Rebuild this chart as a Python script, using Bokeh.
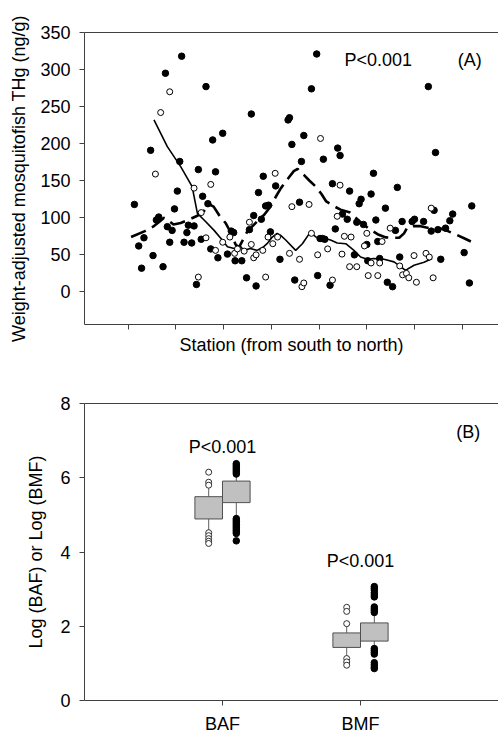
from bokeh.plotting import figure
from bokeh.layouts import column
from bokeh.models import LinearAxis, FixedTicker, Label, Range1d
from bokeh.embed import file_html
from bokeh.resources import INLINE

FONT = "Liberation Sans"
AX = "#404040"

# ---------------- Panel A data ----------------
filled_x = [11.3, 12.2, 12.8, 13.3, 14.7, 15.2, 15.9, 16.4, 17.3, 17.8, 18.2, 18.7, 19.2, 19.7,
            20.3, 20.8, 21.2, 21.7, 22.3, 22.6, 23.3, 23.8, 24.3, 24.7, 25.3, 25.6, 26.3, 26.7,
            27.3, 27.7, 28.3, 28.8, 29.8, 30.8, 31.6, 32.1, 32.4, 33.8, 34.8, 35.4, 35.8, 36.3,
            36.8, 37.3, 37.9, 38.3, 38.8, 39.4, 39.8, 40.9, 41.8, 43.5, 43.8, 44.3, 44.9, 45.9,
            46.3, 46.8, 48.4, 49.5, 49.7, 50.2, 50.7, 51.2, 50.9, 52.3, 52.8, 53.4, 53.9, 54.4,
            54.9, 55.9, 56.4, 57.4, 57.9, 58.4, 58.8, 59.3, 60.0, 60.2, 60.9, 61.4, 61.9, 62.3,
            62.7, 63.9, 64.3, 65.4, 66.0, 66.4, 66.9, 67.4, 69.5, 70.0, 71.9, 72.9, 73.5, 74.1,
            74.4, 74.9, 75.5, 76.5, 77.4, 78.0, 80.4, 81.5, 82.0]
filled_y = [118, 62, 32, 73, 191, 49, 97, 101, 34, 295, 88, 67, 83, 112,
            136, 176, 318, 67, 80, 90, 66, 89, 10, 165, 71, 129, 277, 119,
            58, 205, 162, 46, 214, 51, 82, 80, 42, 42, 19, 84, 240, 103,
            8, 134, 98, 156, 116, 117, 81, 143, 44, 232, 235, 199, 16, 121,
            176, 211, 274, 321, 22, 72, 72, 71, 179, 9, 146, 85, 194, 184,
            105, 98, 136, 50, 94, 119, 125, 91, 64, 42, 132, 160, 97, 68,
            45, 113, 13, 7, 83, 141, 47, 95, 95, 98, 95, 277, 82, 110,
            188, 84, 44, 86, 96, 105, 53, 12, 116]

open_x = [15.7, 16.8, 18.7, 23.8, 24.7, 25.3, 26.3, 27.3, 28.3, 29.8, 31.3, 32.3, 32.9, 34.3,
          35.4, 35.8, 36.3, 36.8, 38.2, 38.8, 39.3, 40.3, 40.8, 41.3, 43.8, 44.3, 45.9, 46.4,
          46.8, 47.9, 48.4, 49.7, 50.3, 51.8, 52.8, 53.8, 54.4, 54.8, 55.3, 56.7, 56.4, 57.9,
          59.5, 60.0, 60.3, 62.3, 60.9, 62.7, 63.2, 64.9, 66.9, 67.5, 68.3, 68.8, 70.4, 69.9,
          72.4, 73.1, 73.5, 73.9]
open_y = [159, 242, 270, 140, 20, 107, 73, 145, 56, 67, 74, 52, 58, 55,
          94, 64, 46, 50, 56, 20, 74, 65, 160, 74, 52, 115, 44, 7,
          12, 118, 79, 50, 207, 58, 16, 102, 144, 51, 75, 74, 34, 34,
          62, 79, 22, 22, 39, 39, 68, 86, 35, 23, 25, 19, 13, 49,
          52, 47, 113, 19]

# smoothed trend of the open-circle series (solid)
trend_open_x = [15.4, 18.2, 21.0, 23.4, 24.5, 25.9, 28.0, 29.7, 30.8, 32.2, 33.6, 34.2, 35.6,
                37.0, 38.4, 39.1, 40.2, 41.2, 41.9, 43.0, 45.1, 46.5, 48.2, 49.3, 50.7, 52.4,
                53.8, 55.6, 57.3, 58.7, 60.1, 61.5, 63.6, 65.7, 67.1, 68.1, 69.9, 72.0, 73.7]
trend_open_y = [232, 196, 169, 142, 106, 97, 83, 70, 61, 58.5, 61, 56, 58.5,
                56, 61, 65, 74, 79, 76.5, 70, 56, 65, 81, 74, 73, 70,
                66, 65, 56, 47, 44, 45, 44, 40.5, 34, 29, 36, 40, 45]

# smoothed trend of the filled-circle series (dashed)
trend_filled_x = [10.6, 13.5, 15.2, 16.6, 17.5, 18.5, 19.5, 21.0, 22.5, 24.6, 26.0, 27.0, 27.9,
                  29.0, 30.4, 31.5, 32.5, 33.2, 34.2, 35.0, 37.0, 38.5, 39.8, 40.9, 42.0, 43.5,
                  44.7, 45.5, 46.0, 46.8, 48.0, 49.3, 50.5, 51.5, 53.0, 54.5, 56.5, 58.7, 60.5,
                  62.5, 64.0, 66.8, 67.8, 68.5, 70.0, 71.3, 73.0, 75.5, 77.0, 78.8, 80.5, 81.8]
trend_filled_y = [74, 82, 88, 95, 100, 96, 91, 93, 97, 103, 110, 118, 115,
                  104, 93, 80, 64, 60, 72, 82, 95, 104, 115, 128, 140, 153,
                  163, 166, 162, 158, 150, 142, 132, 122, 116, 111, 107, 94, 85,
                  77, 73.5, 73, 79, 87, 89, 88.7, 86, 85.5, 82, 77, 72, 68]

a_yticks = [0, 50, 100, 150, 200, 250, 300, 350]
a_xticks = [10, 20, 30, 40, 50, 60, 70, 80]

# ---------------- Panel B data ----------------
group_labels = {1: "BAF", 2: "BMF"}
box_x = [0.9, 1.1, 1.9, 2.1]
box_q1 = [4.89, 5.33, 1.43, 1.60]
box_med = [5.20, 5.66, 1.69, 1.82]
box_q3 = [5.49, 5.91, 1.82, 2.09]
box_lo = [4.54, 4.93, 1.08, 1.34]
box_hi = [5.75, 6.06, 2.04, 2.31]

baf_open_out = [6.15, 5.88, 5.80, 4.52, 4.44, 4.36, 4.29, 4.23]
baf_filled_out = [6.38, 6.34, 6.30, 6.26, 6.22, 6.18, 6.14, 6.10, 4.90, 4.86, 4.82, 4.78,
                  4.74, 4.70, 4.66, 4.62, 4.58, 4.54, 4.50, 4.30]
bmf_open_out = [2.51, 2.40, 2.07, 1.13, 1.04, 0.95]
bmf_filled_out = [3.07, 3.02, 2.97, 2.90, 2.84, 2.79, 2.52, 2.47, 2.42, 2.37, 1.40, 1.35,
                  1.30, 1.25, 1.02, 0.96, 0.90, 0.86]
b_yticks = [0, 2, 4, 6, 8]

BOX_W = 0.2
CAP_W = 0.12


def style_axes(p):
    for ax in p.axis:
        ax.axis_line_color = AX
        ax.axis_line_width = 1
        ax.major_tick_line_color = AX
        ax.major_tick_out = 5
        ax.major_tick_in = 0
        ax.minor_tick_line_color = None
        ax.major_label_text_font = FONT
        ax.major_label_text_font_size = "18px"
        ax.major_label_text_color = "black"
        ax.axis_label_text_font = FONT
        ax.axis_label_text_font_size = "18px"
        ax.axis_label_text_font_style = "normal"
        ax.axis_label_text_color = "black"
    p.grid.visible = False
    p.outline_line_color = None


def top_line(p):
    ax = LinearAxis(ticker=FixedTicker(ticks=[]), axis_line_color=AX,
                    major_tick_line_color=None, minor_tick_line_color=None)
    p.add_layout(ax, "above")


# ---------------- Panel A ----------------
pa = figure(width=498, height=365, output_backend="svg", toolbar_location=None,
            x_range=Range1d(0.84, 87.6), y_range=Range1d(-44, 350),
            min_border_left=84, min_border_right=0, min_border_top=32, min_border_bottom=41)
pa.background_fill_color = "white"
style_axes(pa)
# unlabelled station ticks: drawn as minor ticks so no tick texts exist
pa.xaxis.ticker = FixedTicker(ticks=[], minor_ticks=a_xticks)
pa.xaxis.minor_tick_line_color = AX
pa.xaxis.minor_tick_out = 5
pa.xaxis.minor_tick_in = 0
pa.xaxis.major_label_standoff = 0
pa.xaxis.axis_label = "Station (from south to north)"
pa.xaxis.axis_label_standoff = 5
pa.yaxis.ticker = FixedTicker(ticks=a_yticks)
pa.yaxis.major_label_standoff = 9
pa.yaxis.axis_label = "Weight-adjusted mosquitofish THg (ng/g)"
pa.yaxis.axis_label_standoff = 8
top_line(pa)

pa.line(trend_filled_x, trend_filled_y, line_color="black", line_width=2.6, line_dash="16 7")
pa.line(trend_open_x, trend_open_y, line_color="black", line_width=1.6)
pa.scatter(filled_x, filled_y, size=6.5, fill_color="black", line_color="black")
pa.scatter(open_x, open_y, size=6, fill_color="white", line_color="black", line_width=1)

pa.add_layout(Label(x=62.4, y=312.7, text="P<0.001", text_font=FONT, text_font_size="18px",
                    text_align="center", text_baseline="middle", text_color="black"))
pa.add_layout(Label(x=81.6, y=312.7, text="(A)", text_font=FONT, text_font_size="18px",
                    text_align="center", text_baseline="middle", text_color="black"))

# ---------------- Panel B ----------------
pb = figure(width=498, height=371, output_backend="svg", toolbar_location=None,
            x_range=Range1d(0, 3), y_range=Range1d(0, 8),
            min_border_left=71, min_border_right=0, min_border_top=38, min_border_bottom=34)
pb.background_fill_color = "white"
style_axes(pb)
pb.xaxis.ticker = FixedTicker(ticks=list(group_labels.keys()))
pb.xaxis.major_label_overrides = group_labels
pb.xaxis.major_label_standoff = 8
pb.yaxis.ticker = FixedTicker(ticks=b_yticks)
pb.yaxis.major_label_standoff = 9
pb.yaxis.axis_label = "Log (BAF) or Log (BMF)"
pb.yaxis.axis_label_standoff = 11
top_line(pb)

WH = "#606060"
pb.segment(x0=box_x, y0=box_q3, x1=box_x, y1=box_hi, line_color=WH, line_width=1)
pb.segment(x0=box_x, y0=box_q1, x1=box_x, y1=box_lo, line_color=WH, line_width=1)
pb.rect(x=box_x, y=box_hi, width=CAP_W, height=0, line_color=WH, line_width=1)
pb.rect(x=box_x, y=box_lo, width=CAP_W, height=0, line_color=WH, line_width=1)
pb.vbar(x=box_x, bottom=box_q1, top=box_q3, width=BOX_W, fill_color="#c0c0c0",
        line_color="#505050", line_width=1)
pb.rect(x=box_x, y=box_med, width=BOX_W, height=0, line_color="#505050", line_width=1)

pb.scatter([box_x[0]] * len(baf_open_out), baf_open_out, size=6, fill_color="white",
           line_color="#303030", line_width=1)
pb.scatter([box_x[1]] * len(baf_filled_out), baf_filled_out, size=6.5, fill_color="black",
           line_color="black")
pb.scatter([box_x[2]] * len(bmf_open_out), bmf_open_out, size=6, fill_color="white",
           line_color="#303030", line_width=1)
pb.scatter([box_x[3]] * len(bmf_filled_out), bmf_filled_out, size=6.5, fill_color="black",
           line_color="black")

pb.add_layout(Label(x=1.0, y=6.82, text="P<0.001", text_font=FONT, text_font_size="18px",
                    text_align="center", text_baseline="middle", text_color="black"))
pb.add_layout(Label(x=2.0, y=3.75, text="P<0.001", text_font=FONT, text_font_size="18px",
                    text_align="center", text_baseline="middle", text_color="black"))
pb.add_layout(Label(x=2.78, y=7.24, text="(B)", text_font=FONT, text_font_size="18px",
                    text_align="center", text_baseline="middle", text_color="black"))

layout = column(pa, pb, spacing=0)
open("out.html", "w").write(file_html(layout, INLINE))
